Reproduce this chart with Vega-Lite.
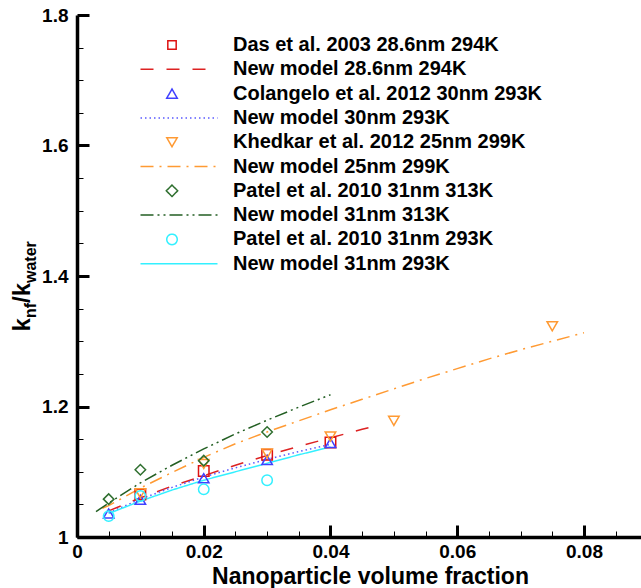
{
  "$schema": "https://vega.github.io/schema/vega-lite/v6.json",
  "width": 564,
  "height": 522,
  "autosize": {"type": "none"},
  "padding": {"left": 77, "top": 15, "right": 0, "bottom": 51},
  "config": {
    "view": {"stroke": null},
    "font": "Liberation Sans",
    "axis": {"grid": false, "domainColor": "black", "domainWidth": 3.5, "tickColor": "black", "tickOpacity": 1, "labelFont": "Liberation Sans", "labelFontWeight": "bold", "labelFontSize": 19, "labelColor": "black", "titleFont": "Liberation Sans", "titleFontWeight": "bold", "titleColor": "black", "labelFlush": false, "labelOverlap": false}
  },
  "datasets": {
    "points": [
      {"series": "Das et al. 2003 28.6nm 294K", "phi": 0.01, "k": 1.065},
      {"series": "Das et al. 2003 28.6nm 294K", "phi": 0.02, "k": 1.101},
      {"series": "Das et al. 2003 28.6nm 294K", "phi": 0.03, "k": 1.126},
      {"series": "Das et al. 2003 28.6nm 294K", "phi": 0.04, "k": 1.145},
      {"series": "Colangelo et al. 2012 30nm 293K", "phi": 0.005, "k": 1.036},
      {"series": "Colangelo et al. 2012 30nm 293K", "phi": 0.01, "k": 1.057},
      {"series": "Colangelo et al. 2012 30nm 293K", "phi": 0.02, "k": 1.09},
      {"series": "Colangelo et al. 2012 30nm 293K", "phi": 0.03, "k": 1.118},
      {"series": "Colangelo et al. 2012 30nm 293K", "phi": 0.04, "k": 1.144},
      {"series": "Khedkar et al. 2012 25nm 299K", "phi": 0.01, "k": 1.067},
      {"series": "Khedkar et al. 2012 25nm 299K", "phi": 0.02, "k": 1.112},
      {"series": "Khedkar et al. 2012 25nm 299K", "phi": 0.03, "k": 1.128},
      {"series": "Khedkar et al. 2012 25nm 299K", "phi": 0.04, "k": 1.154},
      {"series": "Khedkar et al. 2012 25nm 299K", "phi": 0.05, "k": 1.178},
      {"series": "Khedkar et al. 2012 25nm 299K", "phi": 0.075, "k": 1.323},
      {"series": "Patel et al. 2010 31nm 313K", "phi": 0.005, "k": 1.058},
      {"series": "Patel et al. 2010 31nm 313K", "phi": 0.01, "k": 1.103},
      {"series": "Patel et al. 2010 31nm 313K", "phi": 0.02, "k": 1.117},
      {"series": "Patel et al. 2010 31nm 313K", "phi": 0.03, "k": 1.161},
      {"series": "Patel et al. 2010 31nm 293K", "phi": 0.005, "k": 1.032},
      {"series": "Patel et al. 2010 31nm 293K", "phi": 0.01, "k": 1.063},
      {"series": "Patel et al. 2010 31nm 293K", "phi": 0.02, "k": 1.073},
      {"series": "Patel et al. 2010 31nm 293K", "phi": 0.03, "k": 1.087}
    ],
    "lines": [
      {"series": "New model 28.6nm 294K", "phi": 0.005, "k": 1.04},
      {"series": "New model 28.6nm 294K", "phi": 0.01, "k": 1.06},
      {"series": "New model 28.6nm 294K", "phi": 0.015, "k": 1.078},
      {"series": "New model 28.6nm 294K", "phi": 0.02, "k": 1.094},
      {"series": "New model 28.6nm 294K", "phi": 0.025, "k": 1.11},
      {"series": "New model 28.6nm 294K", "phi": 0.03, "k": 1.125},
      {"series": "New model 28.6nm 294K", "phi": 0.035, "k": 1.139},
      {"series": "New model 28.6nm 294K", "phi": 0.04, "k": 1.152},
      {"series": "New model 28.6nm 294K", "phi": 0.045, "k": 1.165},
      {"series": "New model 28.6nm 294K", "phi": 0.0475, "k": 1.171},
      {"series": "New model 30nm 293K", "phi": 0.005, "k": 1.037},
      {"series": "New model 30nm 293K", "phi": 0.01, "k": 1.058},
      {"series": "New model 30nm 293K", "phi": 0.015, "k": 1.076},
      {"series": "New model 30nm 293K", "phi": 0.02, "k": 1.092},
      {"series": "New model 30nm 293K", "phi": 0.025, "k": 1.106},
      {"series": "New model 30nm 293K", "phi": 0.03, "k": 1.119},
      {"series": "New model 30nm 293K", "phi": 0.035, "k": 1.131},
      {"series": "New model 30nm 293K", "phi": 0.04, "k": 1.142},
      {"series": "New model 25nm 299K", "phi": 0.004, "k": 1.044},
      {"series": "New model 25nm 299K", "phi": 0.005, "k": 1.048},
      {"series": "New model 25nm 299K", "phi": 0.01, "k": 1.075},
      {"series": "New model 25nm 299K", "phi": 0.015, "k": 1.099},
      {"series": "New model 25nm 299K", "phi": 0.02, "k": 1.122},
      {"series": "New model 25nm 299K", "phi": 0.025, "k": 1.143},
      {"series": "New model 25nm 299K", "phi": 0.03, "k": 1.161},
      {"series": "New model 25nm 299K", "phi": 0.035, "k": 1.178},
      {"series": "New model 25nm 299K", "phi": 0.04, "k": 1.195},
      {"series": "New model 25nm 299K", "phi": 0.045, "k": 1.211},
      {"series": "New model 25nm 299K", "phi": 0.05, "k": 1.227},
      {"series": "New model 25nm 299K", "phi": 0.055, "k": 1.243},
      {"series": "New model 25nm 299K", "phi": 0.06, "k": 1.258},
      {"series": "New model 25nm 299K", "phi": 0.065, "k": 1.273},
      {"series": "New model 25nm 299K", "phi": 0.07, "k": 1.287},
      {"series": "New model 25nm 299K", "phi": 0.075, "k": 1.3},
      {"series": "New model 25nm 299K", "phi": 0.08, "k": 1.313},
      {"series": "New model 31nm 313K", "phi": 0.003, "k": 1.039},
      {"series": "New model 31nm 313K", "phi": 0.005, "k": 1.052},
      {"series": "New model 31nm 313K", "phi": 0.01, "k": 1.083},
      {"series": "New model 31nm 313K", "phi": 0.015, "k": 1.11},
      {"series": "New model 31nm 313K", "phi": 0.02, "k": 1.135},
      {"series": "New model 31nm 313K", "phi": 0.025, "k": 1.158},
      {"series": "New model 31nm 313K", "phi": 0.03, "k": 1.179},
      {"series": "New model 31nm 313K", "phi": 0.035, "k": 1.199},
      {"series": "New model 31nm 313K", "phi": 0.04, "k": 1.218},
      {"series": "New model 31nm 293K", "phi": 0.005, "k": 1.036},
      {"series": "New model 31nm 293K", "phi": 0.01, "k": 1.055},
      {"series": "New model 31nm 293K", "phi": 0.015, "k": 1.072},
      {"series": "New model 31nm 293K", "phi": 0.02, "k": 1.087},
      {"series": "New model 31nm 293K", "phi": 0.025, "k": 1.1},
      {"series": "New model 31nm 293K", "phi": 0.03, "k": 1.113},
      {"series": "New model 31nm 293K", "phi": 0.035, "k": 1.126},
      {"series": "New model 31nm 293K", "phi": 0.04, "k": 1.138}
    ]
  },
  "resolve": {"scale": {"x": "independent", "y": "independent"}, "axis": {"x": "independent", "y": "independent"}},
  "layer": [
    {
      "data": {"name": "lines"},
      "transform": [{"filter": {"field": "series", "oneOf": ["New model 28.6nm 294K", "New model 30nm 293K", "New model 25nm 299K"]}}],
      "mark": {"type": "line", "strokeWidth": 1.5, "clip": true},
      "encoding": {
        "x": {
          "field": "phi", "type": "quantitative",
          "scale": {"domain": [0, 0.089], "nice": false, "zero": false},
          "axis": {
            "orient": "bottom",
            "title": "Nanoparticle volume fraction",
            "titleFontSize": 23,
            "titleX": 293, "titleY": 46, "titleBaseline": "alphabetic", "titleAnchor": null,
            "values": [0, 0.02, 0.04, 0.06, 0.08],
            "labelExpr": "datum.value == 0 ? '0' : format(datum.value, '.2f')",
            "ticks": false,
            "labelPadding": 5
          }
        },
        "y": {
          "field": "k", "type": "quantitative",
          "scale": {"domain": [1, 1.8], "nice": false, "zero": false},
          "axis": {
            "orient": "left",
            "title": "k",
            "titleFontSize": 24,
            "titleX": -48, "titleY": 316, "titleAngle": -90, "titleBaseline": "alphabetic", "titleAlign": "left", "titleAnchor": null,
            "values": [1, 1.2, 1.4, 1.6, 1.8],
            "labelExpr": "datum.value == 1 ? '1' : format(datum.value, '.1f')",
            "ticks": false,
            "labelPadding": 9
          }
        },
        "color": {"field": "series", "type": "nominal", "scale": {"domain": ["Das et al. 2003 28.6nm 294K", "New model 28.6nm 294K", "Colangelo et al. 2012 30nm 293K", "New model 30nm 293K", "Khedkar et al. 2012 25nm 299K", "New model 25nm 299K", "Patel et al. 2010 31nm 313K", "New model 31nm 313K", "Patel et al. 2010 31nm 293K", "New model 31nm 293K"], "range": ["#dd1111", "#dd2222", "#4040ff", "#5a5aff", "#ff9a33", "#ff9a33", "#2f6f2f", "#235f23", "#33f0ff", "#33f0ff"]}, "legend": {"orient": "none", "legendX": 63, "legendY": 20, "title": null, "labelFont": "Liberation Sans", "labelFontWeight": "bold", "labelFontSize": 20, "labelColor": "black", "labelLimit": 400, "labelOffset": 14, "rowPadding": 4.3, "symbolStrokeWidth": 1.5, "encode": {"symbols": {"update": {"fill": {"value": "transparent"}, "y": {"value": 10}, "size": {"signal": "indexof('' + (datum.value || datum), 'New model') === 0 ? 5929 : indexof('' + (datum.value || datum), 'Das') === 0 ? 70 : indexof('' + (datum.value || datum), 'Patel et al. 2010 31nm 313K') === 0 ? 130 : 110"}, "x": {"signal": "indexof('' + datum.value, 'New model') === 0 ? 39 : 32"}}}, "labels": {"update": {"y": {"value": 10}}}}}},
        "strokeDash": {"field": "series", "type": "nominal", "scale": {"domain": ["Das et al. 2003 28.6nm 294K", "New model 28.6nm 294K", "Colangelo et al. 2012 30nm 293K", "New model 30nm 293K", "Khedkar et al. 2012 25nm 299K", "New model 25nm 299K", "Patel et al. 2010 31nm 313K", "New model 31nm 313K", "Patel et al. 2010 31nm 293K", "New model 31nm 293K"], "range": [[1, 0], [13, 13], [1, 0], [1.5, 3], [1, 0], [13, 6, 2, 6], [1, 0], [13, 4, 2, 4, 2, 4], [1, 0], [1, 0]]}}
      }
    },
    {
      "data": {"name": "lines"},
      "transform": [{"filter": {"field": "series", "oneOf": ["New model 31nm 313K", "New model 31nm 293K"]}}],
      "mark": {"type": "line", "strokeWidth": 1.5, "clip": true},
      "encoding": {
        "x": {
          "field": "phi", "type": "quantitative",
          "scale": {"domain": [0, 0.089], "nice": false, "zero": false},
          "axis": {"orient": "bottom", "offset": -12, "zindex": 1, "title": null, "domain": false, "labels": false, "values": [0, 0.02, 0.04, 0.06, 0.08], "ticks": true, "tickSize": 12, "tickWidth": 3}
        },
        "y": {
          "field": "k", "type": "quantitative",
          "scale": {"domain": [1, 1.8], "nice": false, "zero": false},
          "axis": {"orient": "left", "offset": -12, "zindex": 1, "domain": false, "labels": false, "values": [1, 1.2, 1.4, 1.6, 1.8], "ticks": true, "tickSize": 12, "tickWidth": 3, "title": "nf", "titleFontSize": 16, "titleX": -54, "titleY": 302.5, "titleAngle": -90, "titleBaseline": "alphabetic", "titleAlign": "left", "titleAnchor": null}
        },
        "color": {"field": "series", "type": "nominal"},
        "strokeDash": {"field": "series", "type": "nominal"}
      }
    },
    {
      "data": {"name": "points"},
      "transform": [{"filter": {"field": "series", "oneOf": ["Das et al. 2003 28.6nm 294K", "Colangelo et al. 2012 30nm 293K", "Khedkar et al. 2012 25nm 299K"]}}],
      "mark": {"type": "point", "filled": false, "strokeWidth": 1.5, "opacity": 1, "size": 110},
      "encoding": {
        "x": {
          "field": "phi", "type": "quantitative",
          "scale": {"domain": [0, 0.089], "nice": false, "zero": false},
          "axis": {"orient": "bottom", "offset": -6, "zindex": 1, "title": null, "domain": false, "labels": false, "values": [0.005, 0.01, 0.015, 0.025, 0.03, 0.035, 0.045, 0.05, 0.055, 0.065, 0.07, 0.075, 0.085], "ticks": true, "tickSize": 6, "tickWidth": 1}
        },
        "y": {
          "field": "k", "type": "quantitative",
          "scale": {"domain": [1, 1.8], "nice": false, "zero": false},
          "axis": {"orient": "left", "offset": -6, "zindex": 1, "domain": false, "labels": false, "values": [1.05, 1.1, 1.15, 1.25, 1.3, 1.35, 1.45, 1.5, 1.55, 1.65, 1.7, 1.75], "ticks": true, "tickSize": 6, "tickWidth": 1, "title": "/k", "titleFontSize": 24, "titleX": -54, "titleY": 287.5, "titleAngle": -90, "titleBaseline": "alphabetic", "titleAlign": "left", "titleAnchor": null}
        },
        "color": {"field": "series", "type": "nominal"},
        "shape": {"field": "series", "type": "nominal", "scale": {"domain": ["Das et al. 2003 28.6nm 294K", "New model 28.6nm 294K", "Colangelo et al. 2012 30nm 293K", "New model 30nm 293K", "Khedkar et al. 2012 25nm 299K", "New model 25nm 299K", "Patel et al. 2010 31nm 313K", "New model 31nm 313K", "Patel et al. 2010 31nm 293K", "New model 31nm 293K"], "range": ["square", "stroke", "triangle-up", "stroke", "triangle-down", "stroke", "diamond", "stroke", "circle", "stroke"]}}
      }
    },
    {
      "data": {"name": "points"},
      "transform": [{"filter": {"field": "series", "oneOf": ["Patel et al. 2010 31nm 313K", "Patel et al. 2010 31nm 293K"]}}],
      "mark": {"type": "point", "filled": false, "strokeWidth": 1.5, "opacity": 1, "size": 110},
      "encoding": {
        "x": {
          "field": "phi", "type": "quantitative",
          "scale": {"domain": [0, 0.089], "nice": false, "zero": false},
          "axis": null
        },
        "y": {
          "field": "k", "type": "quantitative",
          "scale": {"domain": [1, 1.8], "nice": false, "zero": false},
          "axis": {"orient": "left", "domain": false, "ticks": false, "labels": false, "title": "water", "titleFontSize": 16, "titleX": -42, "titleY": 267.5, "titleAngle": -90, "titleBaseline": "alphabetic", "titleAlign": "left", "titleAnchor": null}
        },
        "color": {"field": "series", "type": "nominal"},
        "shape": {"field": "series", "type": "nominal"}
      }
    }
  ]
}
